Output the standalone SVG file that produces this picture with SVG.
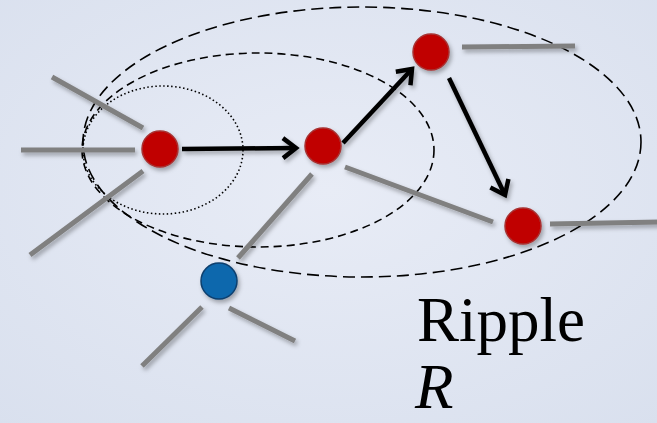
<svg xmlns="http://www.w3.org/2000/svg" width="657" height="423" viewBox="0 0 657 423">
<defs>
<radialGradient id="bg" cx="0.5" cy="0.45" r="0.75">
<stop offset="0" stop-color="#E8ECF6"/>
<stop offset="1" stop-color="#D9E0EE"/>
</radialGradient>
<filter id="sh" filterUnits="userSpaceOnUse" x="0" y="0" width="657" height="423">
<feDropShadow dx="2" dy="3" stdDeviation="2" flood-color="#000" flood-opacity="0.3"/>
</filter>
<marker id="ah" markerUnits="userSpaceOnUse" viewBox="-16 -13 18 26" refX="0" refY="0" markerWidth="18" markerHeight="26" orient="auto" overflow="visible">
<path d="M-13,-10 L0,0 L-13,10" fill="none" stroke="#000" stroke-width="4.5"/>
</marker>
<style>
.edge{stroke:#808080;stroke-width:5;fill:none;filter:url(#sh)}
.arr{stroke:#000;stroke-width:4.5;fill:none;marker-end:url(#ah);filter:url(#sh)}
.red{fill:#C00000;stroke:#A83030;stroke-width:1.5;filter:url(#sh)}
.blue{fill:#0867AD;stroke:#0A3F6E;stroke-width:1.5;filter:url(#sh)}
.ell{fill:none;stroke:#000;stroke-width:1.6}
.lbl{font-family:"Liberation Serif","Times New Roman",serif;font-size:63px;fill:#000}
</style>
</defs>
<rect width="657" height="423" fill="url(#bg)"/>
<g id="regions">
<ellipse class="ell" cx="163" cy="150" rx="80" ry="64" stroke-dasharray="1.5 2.5"/>
<ellipse class="ell" cx="258" cy="150" rx="176" ry="97" stroke-dasharray="8 5"/>
<ellipse class="ell" cx="362" cy="142" rx="279" ry="135" stroke-dasharray="12 6"/>
</g>
<g id="connectors">
<line class="edge" x1="52" y1="77" x2="143" y2="128"/>
<line class="edge" x1="21" y1="150" x2="135" y2="150"/>
<line class="edge" x1="30" y1="255" x2="143" y2="171"/>
<line class="edge" x1="312" y1="174" x2="238" y2="258"/>
<line class="edge" x1="345" y1="167" x2="493" y2="222"/>
<line class="edge" x1="462" y1="47" x2="575" y2="46"/>
<line class="edge" x1="550" y1="224" x2="660" y2="222"/>
<line class="edge" x1="202" y1="307" x2="142" y2="366"/>
<line class="edge" x1="229" y1="308" x2="295" y2="341"/>
<line class="arr" x1="182" y1="149" x2="296" y2="148"/>
<line class="arr" x1="343" y1="143" x2="412" y2="69"/>
<line class="arr" x1="449" y1="78" x2="505" y2="195"/>
</g>
<g id="node-a"><circle class="red" cx="160" cy="149" r="18"/></g>
<g id="node-b"><circle class="red" cx="323" cy="146" r="18"/></g>
<g id="node-c"><circle class="red" cx="431" cy="52" r="18"/></g>
<g id="node-d"><circle class="red" cx="523" cy="226" r="18"/></g>
<g id="node-e"><circle class="blue" cx="219" cy="281" r="18"/></g>
<g id="label">
<text class="lbl" x="417" y="341">Ripple</text>
<text class="lbl" x="415" y="408" font-style="italic">R</text>
</g>
</svg>
